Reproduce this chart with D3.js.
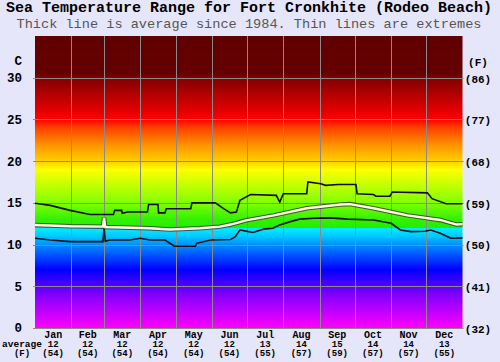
<!DOCTYPE html>
<html><head><meta charset="utf-8">
<script src="https://cdn.jsdelivr.net/npm/d3@7"></script>
<style>body{margin:0;background:#e6e6fa;}svg{display:block}</style>
</head><body>
<svg id="c" width="500" height="362"></svg>
<script>
const months = ["Jan","Feb","Mar","Apr","May","Jun","Jul","Aug","Sep","Oct","Nov","Dec"];
const monthDays = [31,28,31,30,31,30,31,31,30,31,30,31];
const monthAvgC = [12,12,12,12,12,12,13,14,15,14,14,13];
const monthAvgF = [54,54,54,54,54,54,55,57,59,57,57,55];
const ticksC = [0,5,10,15,20,25,30];
const ticksF = [32,41,50,59,68,77,86];

const maxDays  = [0,13,30,47,67,68,74,74.5,79,96,97,105,105.5,111,112,133,134,154,161,167,172,175,184,206,209,212,226,232,233,244,248,259,274,275,289,291,303,305,335,339,351,365];
const maxTemps = [14.95,14.7,14.1,13.6,13.6,14.1,14.1,13.75,13.9,13.9,14.8,14.8,13.8,13.8,14.3,14.3,15.0,15.0,14.3,13.8,13.9,15.3,16.0,15.9,15.1,16.1,16.1,16.1,17.5,17.3,17.1,17.2,17.2,16.1,16.0,15.8,15.8,16.3,16.2,15.5,14.9,14.9];

const avgDays  = [0,30,58,59,60,98,115,141,158,167,175,180,204,232,261,269,289,318,346,360,365];
const avgTemps = [12.35,12.2,12.15,13.2,12.1,11.95,11.8,11.95,12.15,12.4,12.7,12.9,13.5,14.35,14.8,14.85,14.35,13.5,12.95,12.4,12.45];

const minDays  = [0,13,30,58,59,60,64,81,90,98,111,119,137,138,150,167,171,175,186,195,203,209,218,226,238,252,267,289,304,312,321,333,338,346,355,365];
const minTemps = [10.75,10.55,10.35,10.35,12.1,10.4,10.55,10.55,10.75,10.55,10.55,9.8,9.8,10.15,10.55,10.6,10.95,11.75,11.45,11.85,11.95,12.35,12.75,13.05,13.15,13.2,13.05,12.95,12.55,11.75,11.55,11.6,11.75,11.35,10.75,10.8];

const gradTemps  = [0,4,7,10,11,12,12,13,15,17,19,20,22,24,25,27.5,30,30.5,35];
const gradColors = ["#ff00ff","#8000ff","#0000ff","#0090ff","#00c8ff","#00f0ff","#22ee00","#33f000","#80ff00","#c0ff00","#ffff00","#ffd000","#ff9000","#ff4000","#ff0000","#c00000","#800000","#660000","#600000"];

const svg = d3.select("#c");
const x = d3.scaleLinear().domain([0,365]).range([35,462.5]);
const y = d3.scaleLinear().domain([0,35]).range([328,36]);

// gradient background
const defs = svg.append("defs");
const lg = defs.append("linearGradient").attr("id","tg")
  .attr("gradientUnits","userSpaceOnUse")
  .attr("x1",0).attr("x2",0).attr("y1",y(0)).attr("y2",y(35));
gradTemps.forEach((t,i)=>{
  lg.append("stop").attr("offset",t/35).attr("stop-color",gradColors[i]);
});
svg.append("rect").attr("x",x(0)).attr("y",y(35))
  .attr("width",x(365)-x(0)).attr("height",y(0)-y(35)).attr("fill","url(#tg)");

// grid
const cum = [0]; monthDays.forEach(d=>cum.push(cum[cum.length-1]+d));
svg.append("g").selectAll("line").data(cum.slice(1,12)).join("line")
  .attr("x1",d=>Math.round(x(d))+0.5).attr("x2",d=>Math.round(x(d))+0.5)
  .attr("y1",y(35)).attr("y2",y(0))
  .attr("stroke","#8a8a8a").attr("stroke-width",1);
svg.append("g").selectAll("line").data(ticksC).join("line")
  .attr("x1",x(0)-2).attr("x2",x(365)+1)
  .attr("y1",d=>Math.round(y(d))+0.5).attr("y2",d=>Math.round(y(d))+0.5)
  .attr("stroke","#8a8a8a").attr("stroke-width",1);

const line = d3.line().x(d=>x(d[0])).y(d=>y(d[1]));
const zip = (a,b)=>a.map((d,i)=>[d,b[i]]);

svg.append("path").datum(zip(maxDays,maxTemps)).attr("d",line)
  .attr("fill","none").attr("stroke","#111").attr("stroke-width",1.6);
svg.append("path").datum(zip(minDays,minTemps)).attr("d",line)
  .attr("fill","none").attr("stroke","#111").attr("stroke-width",1.6);
svg.append("path").datum(zip(avgDays,avgTemps)).attr("d",line)
  .attr("fill","none").attr("stroke","#333").attr("stroke-width",4.5).attr("stroke-opacity",0.8);
svg.append("path").datum(zip(avgDays,avgTemps)).attr("d",line)
  .attr("fill","none").attr("stroke","#ffffe0").attr("stroke-width",2.4);

// titles
const mono = "'Liberation Mono','Courier New',monospace";
svg.append("text").attr("x",249).attr("y",12).attr("text-anchor","middle")
  .attr("font-family",mono).attr("font-weight","bold").attr("font-size","15px").attr("fill","#000")
  .text("Sea Temperature Range for Fort Cronkhite (Rodeo Beach)");
svg.append("text").attr("x",249).attr("y",28).attr("text-anchor","middle")
  .attr("font-family",mono).attr("font-size","13.6px").attr("fill","#555")
  .text("Thick line is average since 1984. Thin lines are extremes");

// left axis
const lax = svg.append("g").attr("font-family",mono).attr("font-weight","bold").attr("font-size","12.5px");
lax.append("text").attr("x",22).attr("y",61).attr("text-anchor","end").attr("dy","0.35em").text("C");
lax.selectAll("text.t").data(ticksC).join("text").attr("class","t")
  .attr("x",22).attr("y",d=>y(d)).attr("dy","0.35em").attr("text-anchor","end").text(d=>d);

// right axis
const rax = svg.append("g").attr("font-family",mono).attr("font-weight","bold").attr("font-size","11px");
rax.append("text").attr("x",478).attr("y",62).attr("text-anchor","middle").attr("dy","0.35em").text("(F)");
rax.selectAll("text.t").data(ticksF).join("text").attr("class","t")
  .attr("x",478).attr("y",(d,i)=>y(ticksC[i])+1).attr("dy","0.35em").attr("text-anchor","middle").text(d=>"("+d+")");

// bottom month labels and averages
const bx = svg.append("g").attr("font-family",mono).attr("font-weight","bold").attr("text-anchor","middle");
const mid = months.map((m,i)=>x((cum[i]+cum[i+1])/2));
bx.selectAll("text.m").data(months).join("text").attr("class","m")
  .attr("x",(d,i)=>mid[i]).attr("y",338).attr("font-size","10px").text(d=>d);
bx.selectAll("text.c").data(monthAvgC).join("text").attr("class","c")
  .attr("x",(d,i)=>mid[i]).attr("y",347).attr("font-size","9px").text(d=>d);
bx.selectAll("text.f").data(monthAvgF).join("text").attr("class","f")
  .attr("x",(d,i)=>mid[i]).attr("y",356).attr("font-size","9px").text(d=>"("+d+")");
bx.append("text").attr("x",22).attr("y",347).attr("font-size","9.5px").text("average");
bx.append("text").attr("x",22).attr("y",356).attr("font-size","9px").text("(F)");
</script>
</body></html>
